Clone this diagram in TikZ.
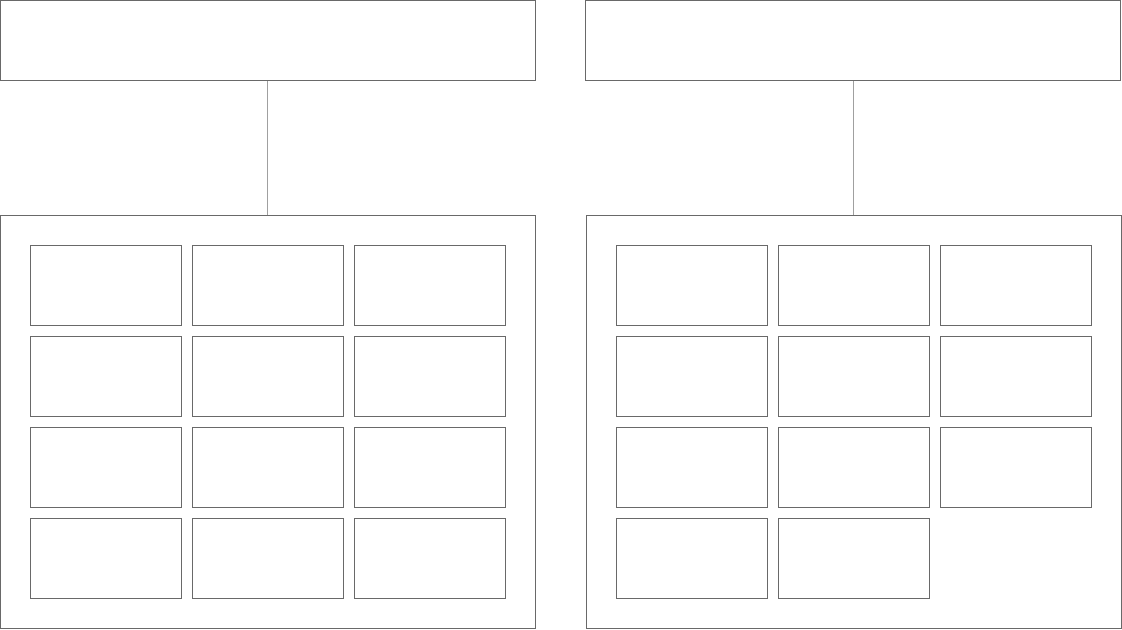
\documentclass[tikz,border=0pt]{standalone}
\usepackage{tikz}
\usetikzlibrary{positioning}
\definecolor{FrameGray}{RGB}{105,105,105}
\definecolor{LinkGray}{RGB}{160,160,160}
\tikzset{
  head/.style={draw=FrameGray,line width=0.75pt,inner sep=0pt,minimum width=401.25pt,minimum height=60pt},
  panel/.style={draw=FrameGray,line width=0.75pt,inner sep=0pt,minimum width=401.25pt,minimum height=309.75pt},
  cell/.style={draw=FrameGray,line width=0.75pt,inner sep=0pt,minimum width=113.25pt,minimum height=60pt},
  link/.style={draw=LinkGray,line width=1pt}
}
\begin{document}
\begin{tikzpicture}[x=0.75pt,y=-0.75pt]
      \useasboundingbox (0,0) rectangle (1122,630);
      % top boxes
      \node[head] (headL) at (267.5,40.5) {};
      \node[head] (headR) at (852.5,40.5) {};
      % panels
      \node[panel] (panelL) at (267.5,422) {};
      \node[panel] (panelR) at (853.5,422) {};
      \draw[link] (headL.south) -- (panelL.north);
      \draw[link] (headR.south-|panelR.north) -- (panelR.north);
      % left grid, 4 x 3
      \foreach \r in {1,...,4}
        \foreach \c in {1,2,3}
          \node[cell] (cellL-\r-\c) at ({105.5+162*(\c-1)},{286+91*(\r-1)}) {};
      % right grid, 11 cells
      \foreach \r in {1,2,3}
        \foreach \c in {1,2,3}
          \node[cell] (cellR-\r-\c) at ({691.5+162*(\c-1)},{286+91*(\r-1)}) {};
      \node[cell] (cellR-4-1) at (691.5,559) {};
      \node[cell] (cellR-4-2) at (853.5,559) {};
    \end{tikzpicture}
\end{document}
